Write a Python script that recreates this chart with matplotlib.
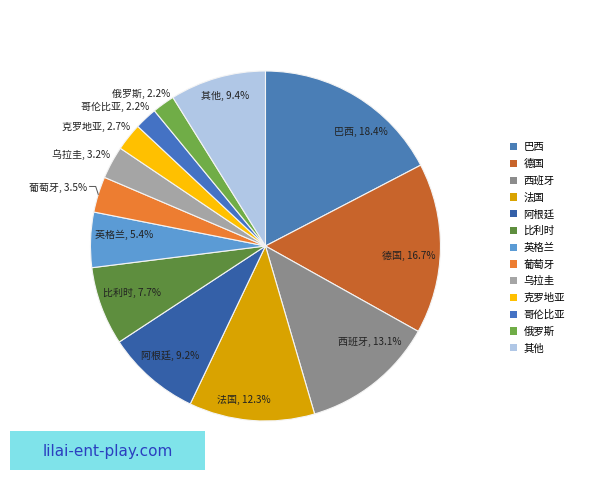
import numpy as np
import matplotlib
matplotlib.use("Agg")
import matplotlib.pyplot as plt
from matplotlib.patches import Patch, Rectangle

plt.rcParams['font.family'] = ['Noto Sans CJK SC', 'DejaVu Sans']

countries = ['巴西', '德国', '西班牙', '法国', '阿根廷', '比利时', '英格兰',
             '葡萄牙', '乌拉圭', '克罗地亚', '哥伦比亚', '俄罗斯', '其他']
shares = [18.4, 16.7, 13.1, 12.3, 9.2, 7.7, 5.4, 3.5, 3.2, 2.7, 2.2, 2.2, 9.4]

colors = ['#4A7EB6', '#C8642B', '#8C8C8C', '#D9A300', '#3460A8', '#5E8E3E',
          '#5B9BD5', '#ED7D31', '#A5A5A5', '#FFC000', '#4472C4', '#70AD47',
          '#B0C7E6']
# label placement: radius (fraction of pie radius, >1 = outside) and angle nudge
label_r = [0.85, 0.82, 0.81, 0.89, 0.83, 0.81, 0.81, 1.12, 1.10, 1.09, 1.09, 1.07, 0.89]
label_da = [-8.5, -3, 9, -3.5, 0, -0.7, -2.5, 0, 0, 0, 0, 0, -0.8]

fig = plt.figure(figsize=(6, 4.8), dpi=100)
ax = fig.add_axes([0.1508, 0.1229, 0.5833, 0.7292])

wedges, _ = ax.pie(shares, colors=colors, startangle=90, counterclock=False,
                   wedgeprops=dict(edgecolor='#f4f4f4', linewidth=0.8))
ax.set_xlim(-1, 1)
ax.set_ylim(-1, 1)
ax.set_aspect('equal')

for w, name, v, r, da in zip(wedges, countries, shares, label_r, label_da):
    mid = np.deg2rad((w.theta1 + w.theta2) / 2 + da)
    x, y = r * np.cos(mid), r * np.sin(mid)
    txt = f'{name}, {v}%'
    if r > 1:
        x += 0.08
        if name == '葡萄牙':
            x -= 0.03
        ax.text(x, y, txt, ha='right', va='center', fontsize=7.2,
                color='#222222', clip_on=False)
        if name == '葡萄牙':
            ex, ey = 1.0 * np.cos(mid), 1.0 * np.sin(mid)
            ax.plot([x + 0.015, x + 0.05, ex], [y + 0.01, y + 0.01, ey],
                    color='#555555', lw=0.7, clip_on=False)
    else:
        ax.text(x, y, txt, ha='center', va='center', fontsize=7.2,
                color='#222222')

handles = [Patch(facecolor=c, edgecolor='none') for c in colors]
fig.legend(handles, countries, loc='upper left', bbox_to_anchor=(0.843, 0.712),
           frameon=False, fontsize=7.5, handlelength=0.7, handleheight=0.7,
           handletextpad=0.6, labelspacing=0.63, borderaxespad=0)

fig.add_artist(Rectangle((0.017, 0.021), 0.325, 0.081, transform=fig.transFigure,
                         facecolor='#7FE3EA', edgecolor='none'))
fig.text(0.18, 0.059, 'lilai-ent-play.com', ha='center', va='center',
         fontsize=11, color='#2b3fc0', family=['DejaVu Sans'])

fig.savefig('out.png', dpi=100)
